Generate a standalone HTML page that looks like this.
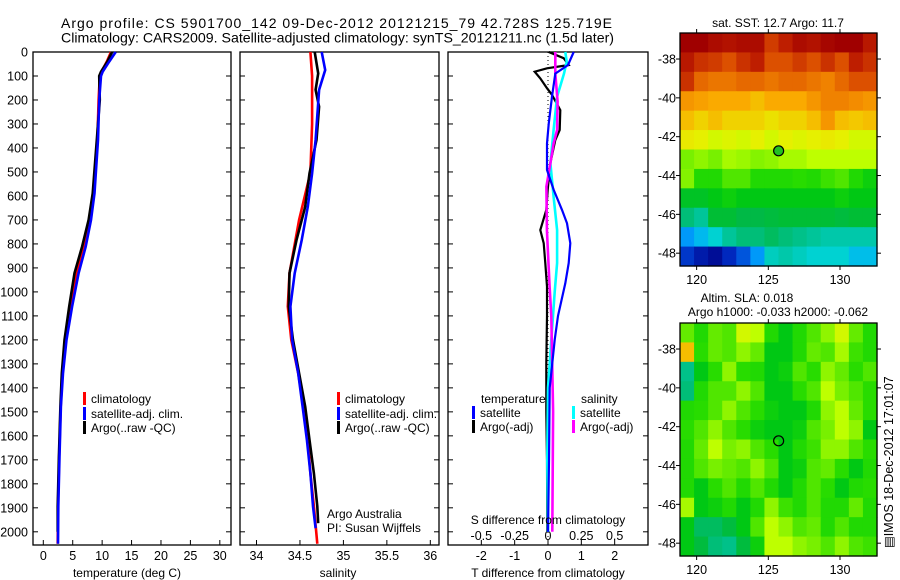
<!DOCTYPE html>
<html><head><meta charset="utf-8">
<style>
body{margin:0;background:#fff;width:900px;height:580px;overflow:hidden}
svg{display:block;font-family:"Liberation Sans",sans-serif}
</style></head>
<body>
<svg id="fig" width="900" height="580" viewBox="0 0 900 580" xmlns="http://www.w3.org/2000/svg">
<text x="61" y="28" font-size="14" textLength="551" lengthAdjust="spacing">Argo profile: CS 5901700_142 09-Dec-2012 20121215_79 42.728S 125.719E</text>
<text x="61" y="42.5" font-size="14" textLength="553" lengthAdjust="spacingAndGlyphs">Climatology: CARS2009. Satellite-adjusted climatology: synTS_20121211.nc (1.5d later)</text>
</svg>
<script>
// ---- data ----
const depthTicks=[0,100,200,300,400,500,600,700,800,900,1000,1100,1200,1300,1400,1500,1600,1700,1800,1900,2000];
const tempTicks=[0,5,10,15,20,25,30];
const salTicks=[34,34.5,35,35.5,36];
const dTTicks=[-2,-1,0,1,2];
const dSTicks=[-0.5,-0.25,0,0.25,0.5];
const dSTickLabels=["-0.5","-0.25","0","0.25","0.5"];

const tClimDepth=[0,40,82,100,200,367,589,700,811,922,1061,1200,1339,1478,1686,1894,2050];
const tClim=[11.5,10.8,9.9,9.6,9.4,9.2,8.5,7.8,6.8,5.6,4.6,3.75,3.25,2.95,2.7,2.5,2.45];
const tSat=[12.3,11.2,10.1,9.8,9.5,9.3,8.7,8.1,7.2,6.0,4.9,3.95,3.35,3.0,2.75,2.55,2.5];
const tArgoDepth=[0,40,82,100,200,367,589,700,811,922,1061,1200,1339,1478,1686,1894,2000];
const tArgo=[11.7,10.9,9.8,9.5,9.6,9.1,8.4,7.7,6.6,5.3,4.4,3.6,3.15,2.9,2.65,2.45,2.45];

const sClimDepth=[0,100,300,503,700,922,1061,1200,1339,1478,1617,1756,1894,2050];
const sClim=[34.62,34.64,34.64,34.62,34.49,34.38,34.36,34.40,34.48,34.54,34.59,34.62,34.66,34.70];
const sArgoDepth=[0,89,158,228,367,506,645,784,922,1061,1200,1339,1478,1617,1756,1894,1964];
const sArgo=[34.67,34.71,34.68,34.72,34.69,34.61,34.56,34.46,34.38,34.37,34.42,34.49,34.56,34.61,34.66,34.70,34.71];
const sSatDepth=[0,75,158,367,506,645,784,922,1061,1200,1339,1478,1617,1756,1894,1985];
const sSat=[34.75,34.79,34.72,34.68,34.64,34.59,34.52,34.44,34.39,34.41,34.48,34.53,34.58,34.62,34.65,34.68];

const dTArgoDepth=[0,26,54,68,82,110,151,179,242,325,367,464,575,658,742,797,880,978,1100,1300,1500,1700,2000];
const dTArgo=[0.02,0.47,0.62,-0.03,-0.4,-0.23,-0.03,0.12,0.37,0.35,0.22,0.07,-0.01,-0.05,-0.23,-0.13,-0.08,-0.03,-0.03,-0.05,-0.05,-0.03,-0.02];
const dTSatDepth=[0,54,90,186,300,381,492,575,658,714,797,880,964,1100,1200,1400,1700,2000];
const dTSat=[0.77,0.6,0.22,0.12,0.02,-0.03,-0.03,0.17,0.42,0.57,0.67,0.62,0.52,0.3,0.2,0.05,0.03,0.0];
const dSSatDepth=[0,40,90,186,325,464,603,742,880,1000,1200,1400,1700,2000];
const dSSat=[0.13,0.14,0.12,0.068,0.042,0.018,0.042,0.068,0.068,0.05,0.025,0.0,-0.005,0.0];
const dSArgoDepth=[0,90,206,325,381,464,561,742,978,1100,1500,2000];
const dSArgo=[0.055,0.055,0.072,0.068,0.042,0.018,-0.012,-0.008,0.012,0.025,0.038,0.032];

const mapLatTicks=[-38,-40,-42,-44,-46,-48];
const mapLonTicks=[120,125,130];
const argoLon=125.719, argoLat=-42.728;
const sstGrid=[
[1,1,.98,.97,.98,.98,.92,.95,.98,.97,.99,1,1,.96],
[.96,.93,.92,.9,.93,.95,.9,.9,.92,.9,.93,.9,.95,.93],
[.93,.88,.87,.87,.88,.88,.87,.88,.88,.87,.86,.88,.9,.9],
[.84,.83,.82,.82,.82,.8,.82,.82,.82,.84,.86,.86,.85,.84],
[.8,.78,.8,.78,.78,.78,.76,.78,.78,.8,.84,.8,.79,.8],
[.75,.74,.72,.73,.72,.74,.72,.74,.73,.74,.75,.74,.72,.72],
[.64,.66,.64,.68,.67,.65,.66,.68,.68,.7,.7,.7,.7,.7],
[.65,.55,.55,.6,.6,.55,.55,.55,.56,.55,.58,.6,.55,.52],
[.48,.48,.5,.52,.5,.5,.5,.5,.5,.5,.5,.52,.5,.5],
[.4,.36,.46,.46,.44,.44,.45,.46,.46,.46,.46,.45,.46,.46],
[.2,.25,.3,.36,.4,.4,.42,.4,.38,.36,.34,.34,.34,.34],
[.08,.04,.02,.06,.12,.2,.32,.34,.32,.3,.3,.3,.26,.26]];
const slaGrid=[
[.62,.55,.62,.6,.72,.7,.55,.5,.55,.6,.66,.72,.62,.55],
[.8,.56,.62,.6,.66,.62,.5,.5,.55,.62,.6,.68,.58,.55],
[.38,.5,.56,.66,.56,.55,.5,.52,.6,.56,.66,.62,.56,.6],
[.4,.55,.6,.6,.66,.6,.5,.5,.56,.6,.7,.64,.6,.56],
[.55,.56,.6,.66,.6,.56,.52,.5,.5,.55,.66,.7,.62,.56],
[.56,.6,.66,.6,.56,.52,.5,.5,.52,.6,.64,.7,.66,.5],
[.55,.62,.7,.64,.66,.6,.56,.5,.55,.58,.66,.66,.6,.56],
[.55,.6,.64,.62,.6,.66,.6,.5,.52,.6,.62,.56,.5,.55],
[.55,.5,.56,.6,.55,.6,.55,.5,.55,.6,.56,.5,.55,.56],
[.68,.5,.52,.55,.5,.55,.66,.58,.55,.6,.55,.55,.62,.55],
[.5,.42,.42,.45,.5,.6,.7,.66,.6,.62,.55,.6,.55,.55],
[.5,.45,.4,.38,.45,.52,.7,.7,.66,.64,.6,.66,.6,.58]];

// ---- helpers ----
const NS="http://www.w3.org/2000/svg";
const svg=document.getElementById('fig');
function el(tag,attrs,parent){const e=document.createElementNS(NS,tag);for(const k in attrs)e.setAttribute(k,attrs[k]);(parent||svg).appendChild(e);return e;}
function txt(s,x,y,anchor,size,parent){const t=el('text',{x:x,y:y,'text-anchor':anchor||'start','font-size':size||12},parent);t.textContent=s;return t;}

const DTOP=52,DBOT=545,DMAX=2055;
function yD(d){return DTOP+(d/DMAX)*(DBOT-DTOP);}
function panel(name,x0,x1,vmin,vmax){
  const g=el('g',{});
  
  
  const r=el('rect',{x:x0,y:DTOP,width:x1-x0,height:DBOT-DTOP,fill:'none',stroke:'#000','stroke-width':1.3},g);
  
  
  return {g:g,x:v=>x0+(v-vmin)/(vmax-vmin)*(x1-x0),x0:x0,x1:x1};
}
function depthTicksOn(p,labels){
  depthTicks.forEach(d=>{
    const y=yD(d);
    el('line',{x1:p.x0,x2:p.x0+5,y1:y,y2:y,stroke:'#000'},p.g);
    el('line',{x1:p.x1,x2:p.x1-5,y1:y,y2:y,stroke:'#000'},p.g);
    if(labels){const t=txt(String(d),28,y+4.5,'end',12.5,p.g);
      
      }
  });
}
function line(p,xs,ds,color,name,w,scale){
  const pts=xs.map((v,i)=>p.x(v*(scale||1)).toFixed(1)+','+yD(ds[i]).toFixed(1)).join(' ');
  const l=el('polyline',{points:pts,fill:'none',stroke:color,'stroke-width':w||2.6,'stroke-linejoin':'miter'},p.g);
  
  
}
function legend(p,items,mx,ys){
  items.forEach((it,i)=>{
    const m=el('rect',{x:mx,y:ys[i]-6,width:3,height:13,fill:it[1]},p.g);
    
    
    const t=txt(it[0],mx+8,ys[i]+5,'start',12,p.g);
    
    
  });
}

// ---- panel 1: temperature ----
const p1=panel('temperature-panel',33,231,-1.75,31.9);
depthTicksOn(p1,true);
tempTicks.forEach(v=>{const x=p1.x(v);el('line',{x1:x,x2:x,y1:DBOT,y2:DBOT-5,stroke:'#000'},p1.g);
  const t=txt(String(v),x,560,'middle',12.5,p1.g);
  
  });
line(p1,tClim,tClimDepth,'#f00','temp-climatology-line');
line(p1,tArgo,tArgoDepth,'#000','temp-argo-line');
line(p1,tSat,tClimDepth,'#00f','temp-satellite-line');
legend(p1,[['climatology','#f00','climatology'],['satellite-adj. clim.','#00f','satellite'],['Argo(..raw -QC)','#000','argo']],83,[398,413,427]);
{const t=txt('temperature (deg C)',127,577,'middle',12,p1.g);}

// ---- panel 2: salinity ----
const p2=panel('salinity-panel',240,439,33.81,36.10);
depthTicksOn(p2,false);
salTicks.forEach(v=>{const x=p2.x(v);el('line',{x1:x,x2:x,y1:DBOT,y2:DBOT-5,stroke:'#000'},p2.g);
  const t=txt(String(v),x,560,'middle',12.5,p2.g);
  
  });
line(p2,sClim,sClimDepth,'#f00','sal-climatology-line');
line(p2,sArgo,sArgoDepth,'#000','sal-argo-line');
line(p2,sSat,sSatDepth,'#00f','sal-satellite-line');
legend(p2,[['climatology','#f00','climatology'],['satellite-adj. clim.','#00f','satellite'],['Argo(..raw -QC)','#000','argo']],337,[398,413,427]);
{const t=txt('Argo Australia',327,518,'start',12,p2.g);
 const t2=txt('PI: Susan Wijffels',327,532,'start',12,p2.g);
 const t3=txt('salinity',338,577,'middle',12,p2.g);}

// ---- panel 3: differences ----
const p3=panel('difference-panel',448,648,-3,3);
depthTicksOn(p3,false);
el('line',{x1:p3.x(0),x2:p3.x(0),y1:DTOP,y2:DBOT,stroke:'#000','stroke-dasharray':'1,3'},p3.g);
dTTicks.forEach(v=>{const x=p3.x(v);el('line',{x1:x,x2:x,y1:DBOT,y2:DBOT-5,stroke:'#000'},p3.g);
  const t=txt(String(v),x,560,'middle',12.5,p3.g);
  
  });
dSTicks.forEach((v,i)=>{const t=txt(dSTickLabels[i],p3.x(v*4),540,'middle',12.5,p3.g);
  
  });
line(p3,dTArgo,dTArgoDepth,'#000','dT-argo-line',2.2);
line(p3,dSSat,dSSatDepth,'#0ff','dS-satellite-line',2.6,4);
line(p3,dSArgo,dSArgoDepth,'#f0f','dS-argo-line',2.6,4);
line(p3,dTSat,dTSatDepth,'#00f','dT-satellite-line',2.2);
{const t=txt('temperature',481,403,'start',12,p3.g);
 const t2=txt('salinity',581,403,'start',12,p3.g);}
legend(p3,[['satellite','#00f','dT-satellite'],['Argo(-adj)','#000','dT-argo']],472,[412,426]);
legend(p3,[['satellite','#0ff','dS-satellite'],['Argo(-adj)','#f0f','dS-argo']],572,[412,426]);
{const t=txt('S difference from climatology',548,524,'middle',12,p3.g);
 const t2=txt('T difference from climatology',548,577,'middle',12,p3.g);}

// ---- maps ----
const cmapStops=[[0,0,0,130],[.06,0,40,190],[.14,0,100,230],[.22,0,170,255],[.3,0,210,210],[.34,0,200,170],[.4,0,190,120],[.44,0,185,70],[.5,0,200,20],[.56,40,220,0],[.64,120,240,0],[.7,190,255,0],[.74,230,240,0],[.78,240,210,0],[.82,250,170,0],[.86,240,130,0],[.9,220,80,0],[.95,190,30,0],[1,160,0,0]];
function cmap(v){for(let i=1;i<cmapStops.length;i++){const a=cmapStops[i-1],b=cmapStops[i];if(v<=b[0]){const f=(v-a[0])/(b[0]-a[0]);return 'rgb('+[1,2,3].map(k=>Math.round(a[k]+f*(b[k]-a[k]))).join(',')+')';}}return 'rgb(160,0,0)';}
const LON0=118.84,LON1=132.58,LAT0=-36.66,LAT1=-48.66;
function drawMap(name,grid,y0,y1,markerFill){
  const x0=680,x1=877;
  const g=el('g',{});
  
  
  const rows=grid.length,cols=grid[0].length,cw=(x1-x0)/cols,ch=(y1-y0)/rows;
  grid.forEach((row,r)=>row.forEach((v,c)=>{
    const cell=el('rect',{x:(x0+c*cw).toFixed(2),y:(y0+r*ch).toFixed(2),width:(cw+0.6).toFixed(2),height:(ch+0.6).toFixed(2),fill:cmap(v)},g);
    
    
  }));
  const lx=v=>x0+(v-LON0)/(LON1-LON0)*(x1-x0), ly=v=>y0+(v-LAT0)/(LAT1-LAT0)*(y1-y0);
  el('rect',{x:x0,y:y0,width:x1-x0,height:y1-y0,fill:'none',stroke:'#000','stroke-width':1.3},g);
  mapLatTicks.forEach(v=>{const y=ly(v);el('line',{x1:x1,x2:x1+4,y1:y,y2:y,stroke:'#000'},g);el('line',{x1:x0,x2:x0-4,y1:y,y2:y,stroke:'#000'},g);
    const t=txt(String(v),676,y+4.5,'end',12.5,g);
    
    });
  mapLonTicks.forEach(v=>{const x=lx(v);el('line',{x1:x,x2:x,y1:y0,y2:y0-4,stroke:'#000'},g);el('line',{x1:x,x2:x,y1:y1,y2:y1+4,stroke:'#000'},g);
    const t=txt(String(v),x,y1+18,'middle',12.5,g);
    
    });
  const m=el('circle',{cx:lx(argoLon),cy:ly(argoLat),r:5,fill:markerFill,stroke:'#000','stroke-width':1.2},g);
  
  
}
drawMap('sst-map',sstGrid,33,266,'#22c022');
drawMap('sla-map',slaGrid,323,556,'none');
{const t=txt('sat. SST: 12.7 Argo: 11.7',778,27,'middle',12);
 const t2=txt('Altim. SLA: 0.018',747,302,'middle',12);
 const t3=txt('Argo h1000: -0.033 h2000: -0.062',778,316,'middle',12);
 const t4=txt('\u25A4IMOS 18-Dec-2012 17:01:07',0,0,'start',12.5);t4.setAttribute('transform','translate(893,548) rotate(-90)');
 }
</script>
</body></html>
